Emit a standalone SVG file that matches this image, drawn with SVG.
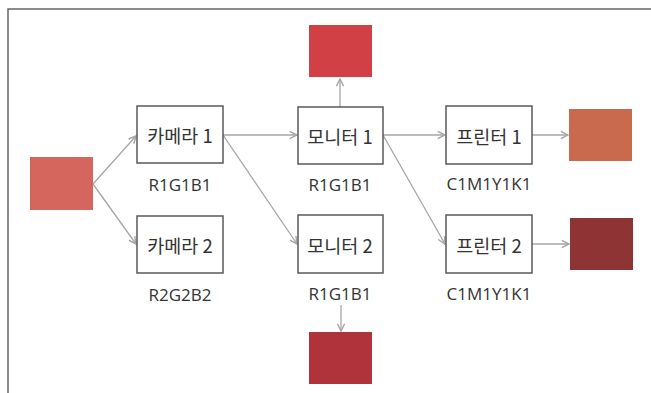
<svg xmlns="http://www.w3.org/2000/svg" width="651" height="393" viewBox="0 0 651 393">
<style>
.box{fill:#fff;stroke:#595959;stroke-width:1.5}
.t{font-family:"Noto Sans CJK KR","Noto Sans",sans-serif;font-size:18.5px;fill:#333;text-anchor:middle;dominant-baseline:central}
.l{font-family:"Open Sans","Noto Sans",sans-serif;font-size:17px;fill:#333;text-anchor:middle;dominant-baseline:central}
.c{stroke:#a6a6a6;stroke-width:1.3;fill:none;marker-end:url(#ah)}
</style>
<defs>
<marker id="ah" viewBox="0 0 10 10" refX="9" refY="5" markerWidth="9" markerHeight="9" markerUnits="userSpaceOnUse" orient="auto">
<path d="M1,1 L9,5 L1,9" fill="none" stroke="#a6a6a6" stroke-width="1.6"/>
</marker>
</defs>
<rect width="651" height="393" fill="#fff"/>
<path d="M8,393 V9 H651" fill="none" stroke="#666" stroke-width="1.5"/>
<g id="connectors">
<line class="c" x1="93" y1="184" x2="136" y2="136"/>
<line class="c" x1="93" y1="184" x2="136" y2="244"/>
<line class="c" x1="223" y1="135" x2="297" y2="135"/>
<line class="c" x1="223" y1="135" x2="297" y2="244"/>
<line class="c" x1="383" y1="135" x2="445" y2="135"/>
<line class="c" x1="383" y1="135" x2="445" y2="244"/>
<line class="c" x1="532" y1="135" x2="568" y2="135"/>
<line class="c" x1="532" y1="244" x2="569" y2="244"/>
<line class="c" x1="340" y1="107" x2="340" y2="79"/>
<line class="c" x1="341" y1="305" x2="341" y2="331"/>
</g>
<g id="source"><rect x="30" y="157" width="63" height="53" fill="#d4665e"/></g>
<g id="camera1"><rect class="box" x="137" y="106" width="86" height="57"/><text class="t" x="180" y="135">카메라 1</text><text class="l" x="180" y="184">R1G1B1</text></g>
<g id="camera2"><rect class="box" x="137" y="216" width="86" height="57"/><text class="t" x="180" y="245">카메라 2</text><text class="l" x="180" y="294">R2G2B2</text></g>
<g id="monitor1"><rect class="box" x="298" y="107" width="85" height="57"/><text class="t" x="340" y="136">모니터 1</text><text class="l" x="340" y="184">R1G1B1</text></g>
<g id="monitor2"><rect class="box" x="298" y="215" width="85" height="58"/><text class="t" x="340" y="245">모니터 2</text><text class="l" x="340" y="293">R1G1B1</text></g>
<g id="printer1"><rect class="box" x="446" y="106" width="86" height="58"/><text class="t" x="489" y="136">프린터 1</text><text class="l" x="489" y="183">C1M1Y1K1</text></g>
<g id="printer2"><rect class="box" x="446" y="215" width="86" height="58"/><text class="t" x="489" y="245">프린터 2</text><text class="l" x="489" y="293">C1M1Y1K1</text></g>
<g id="out-top"><rect x="309" y="25" width="63" height="52" fill="#d04045"/></g>
<g id="out-bottom"><rect x="309" y="332" width="63" height="52" fill="#b0333c"/></g>
<g id="out-p1"><rect x="569" y="109" width="63" height="52" fill="#c96a4e"/></g>
<g id="out-p2"><rect x="570" y="218" width="63" height="52" fill="#8e3434"/></g>
</svg>
